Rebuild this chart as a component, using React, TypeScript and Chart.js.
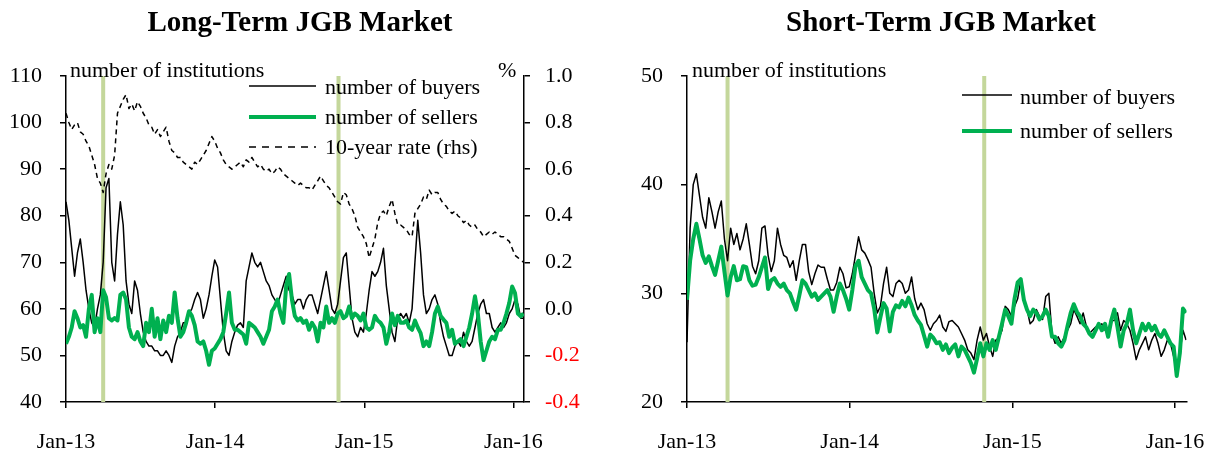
import React, { useEffect, useRef } from "react";
import { Chart, registerables } from "chart.js";

Chart.register(...registerables);

// ---- data (weekly observations, x = days since 1 Jan 2013) ----
const WEEK_STEP_DAYS = 7;
const xTickDays = [0, 365, 730, 1095];
const xTickLabels = ["Jan-13", "Jan-14", "Jan-15", "Jan-16"];
const xMaxDay = 1121;
const policyEventDays = [91, 667];

const ltBuyers = [
  83, 79, 73, 67, 72, 75, 70, 64, 60, 57,
  56, 60, 63, 70, 86, 88, 70, 66, 76, 83,
  78, 66, 61, 59, 66, 64, 59, 55, 53, 52,
  52, 51, 51, 50, 50, 51, 50, 48.5, 52, 54,
  55, 57, 57, 59, 60, 62, 63.5, 62, 58, 60,
  63, 67, 70.5, 69, 62, 55, 51, 50, 53, 55,
  56.5, 57, 56, 66, 69, 72, 70, 69, 70, 68,
  66, 65, 63, 62, 61, 63, 65, 67, 64, 63,
  61, 62, 62, 60, 62, 63, 63, 61, 59, 62,
  65, 68, 64, 60, 59, 61, 66, 71, 72, 65,
  58, 55, 54, 56, 55, 59, 64, 68, 67, 68,
  70, 73, 65, 60, 55, 53, 58, 59, 58, 59,
  57, 60, 70, 79, 72, 63, 59, 60, 62, 63,
  61, 57, 54, 52, 50, 50, 52, 53, 52, 55,
  53, 52, 53, 56, 59, 61, 62, 59, 59, 56,
  55, 56, 57, 56, 57, 59, 60, 62, 61, 58, 58,
];

const ltSellers = [
  52.5, 54, 56, 59.5, 58, 56, 56.5, 54, 60, 63,
  55, 58, 55, 64, 62.5, 58, 57.5, 58, 57.5, 63,
  63.5, 62, 56, 54, 53.5, 55, 53, 52, 57, 55,
  60, 54, 58, 53.5, 57.5, 55, 58.5, 57, 63.5, 58,
  54, 55, 57, 59.5, 58.5, 56.5, 53, 52.5, 53, 51,
  48, 51, 51.5, 52.5, 53.5, 55, 59, 63.5, 57, 55.5,
  55.5, 55, 54.5, 52.5, 57, 56.5, 56, 55, 54, 52.5,
  54, 55.5, 59.5, 60.5, 62, 59, 57, 65, 67.5, 62,
  58.5, 57.5, 58, 57, 57.5, 55.5, 57, 56, 53, 57,
  56, 60.5, 57, 58, 57, 59, 59.5, 58, 58.5, 60.5,
  58, 59, 58.5, 57.5, 59, 56, 55.5, 56, 58.5, 57.5,
  57, 56, 52.5, 55, 59, 56.5, 58.5, 57, 57, 57.5,
  56, 55.5, 57.5, 56, 54.8, 52, 53, 52, 55, 59,
  60.5, 58.5, 57.7, 57, 54, 55.5, 52.5, 53, 53.5, 52,
  54, 56, 59, 62.7, 59, 53, 49, 51, 53, 54,
  53.5, 55.5, 55.5, 57, 59, 61.3, 64.8, 63.4, 59, 58.4, 59,
];

const tenYearRate = [
  0.84, 0.8, 0.77, 0.79, 0.8, 0.76, 0.75, 0.72, 0.7, 0.66,
  0.62, 0.56, 0.54, 0.5, 0.58, 0.62, 0.6, 0.66, 0.84, 0.87,
  0.9, 0.92, 0.86, 0.88, 0.85, 0.89, 0.87, 0.84, 0.82, 0.79,
  0.78, 0.75, 0.77, 0.74, 0.76, 0.78, 0.72, 0.68, 0.67, 0.65,
  0.65, 0.63, 0.62, 0.61, 0.6, 0.63, 0.62, 0.64, 0.66, 0.68,
  0.71, 0.74, 0.72, 0.69, 0.67, 0.64, 0.62, 0.61, 0.6, 0.61,
  0.62, 0.63, 0.61, 0.64, 0.63, 0.65, 0.63, 0.61, 0.62, 0.6,
  0.59, 0.6, 0.58, 0.59, 0.61, 0.6, 0.58, 0.57, 0.56, 0.55,
  0.54, 0.53, 0.54, 0.53, 0.52, 0.52, 0.51, 0.53, 0.55, 0.57,
  0.55, 0.53, 0.52, 0.5, 0.48, 0.46, 0.45, 0.5, 0.49, 0.45,
  0.43, 0.4, 0.35, 0.33, 0.31, 0.28, 0.22, 0.26, 0.3, 0.37,
  0.41, 0.42, 0.4, 0.44, 0.47, 0.41, 0.36, 0.36, 0.35, 0.34,
  0.32, 0.31, 0.41, 0.43, 0.45, 0.48, 0.47, 0.51, 0.49, 0.5,
  0.5, 0.47, 0.45, 0.44, 0.42, 0.41, 0.42, 0.4, 0.39, 0.37,
  0.38, 0.36, 0.35, 0.36, 0.34, 0.33, 0.31, 0.32, 0.33, 0.32,
  0.33, 0.32, 0.31, 0.31, 0.3, 0.29, 0.26, 0.23, 0.22, 0.21, 0.2,
];

const stBuyers = [
  25.5, 36, 40, 41, 39, 37, 36, 38.8, 37.5, 36,
  37.5, 38.5, 35, 33, 36, 34.5, 35.5, 34, 35, 36.4,
  34.5, 32.5, 31.8, 33, 36, 36.2, 33.5, 32, 33, 36,
  34.5, 33.5, 33.3, 32.4, 33, 31.2, 33, 34.5, 34.5, 32,
  30.8, 31.8, 32.6, 32.4, 32.4, 31.3, 30.3, 30.3, 31, 32.4,
  31.8, 30.5, 30.6, 31.8, 33.5, 35.2, 34, 33.7, 33.1, 32.4,
  30, 28.2, 28.8, 30.9, 32.4, 30, 29.7, 30.9, 31.2, 30.9,
  30, 30.3, 31.5, 29.5, 28.5, 29.1, 28.5, 27.2, 26.6, 27.2,
  27.5, 28, 26.9, 26.5, 27.4, 27.5, 27.2, 26.9, 26.3, 25.7,
  24.8, 24.5, 23.9, 25.7, 26.9, 25.7, 26.3, 25.1, 24.2, 25.7,
  25.9, 26.6, 28.8, 28.5, 27.9, 28.8, 29.5, 31.2, 29.4, 28.5,
  27.2, 27.5, 28.5, 27.9, 27.6, 29.7, 30, 26.3, 25.4, 26,
  25.4, 26, 26.6, 27.2, 28.5, 27.9, 27.2, 28.2, 27, 26.3,
  26.6, 26.9, 26.9, 27.2, 26.6, 26.6, 27.5, 27.5, 28.2, 26.6,
  27.5, 27.2, 26.6, 25.4, 23.9, 24.8, 25.4, 26, 24.8, 25.7,
  26.3, 25.4, 24.2, 24.8, 25.7, 25.4, 24.2, 23, 24.5, 26.6, 25.7,
];

const stSellers = [
  29.4, 33, 35, 36.4, 35, 33.5, 32.8, 33.4, 32.5, 31.7,
  33, 34.3, 32, 29.8, 31.5, 32.5, 31.2, 31.3, 32.5, 32.4,
  31.2, 30.7, 30.8, 31.5, 32.4, 33.3, 30.4, 31.2, 31.4, 30.9,
  30.6, 30.9, 30.3, 30, 29.2, 28.5, 29.8, 31.2, 30.9, 30.3,
  29.7, 30, 29.4, 29.7, 30, 30.3, 29.7, 28.3, 29.7, 30.9,
  30.3, 29.5, 28.5, 30.3, 32.5, 33, 31.5, 30.9, 30.3, 30,
  28.6, 26.4, 27.8, 29.1, 28.6, 26.5, 28.3, 28.9, 28.7, 29.3,
  28.8, 29.6, 28.9, 28, 27.5, 27.1, 26.1, 25.1, 26.2, 25.9,
  25.4, 25.5, 24.8, 25.3, 24.5, 25, 25.3, 24.2, 25.1, 24.8,
  24.2, 23.6, 22.7, 24, 25.4, 24.2, 25.4, 24.8, 25.7, 24.8,
  26, 27.2, 28.5, 27.9, 27.2, 29.5, 31, 31.3, 29.4, 28.5,
  27.9, 28.5, 28.2, 27.6, 27.9, 28.5, 27.9, 26, 26, 25.4,
  25.1, 25.7, 27, 28.2, 29, 28.3, 27.9, 27.2, 26.9, 26.3,
  26, 26.6, 27.2, 26.6, 27.2, 26, 27.5, 28.5, 26.9, 25.1,
  26.6, 27.2, 28.5, 26.6, 25.4, 26.3, 27.2, 26.6, 27.2, 26.6,
  27, 26.3, 26, 26.6, 26, 25.4, 25.1, 22.4, 24.5, 28.6, 28.2,
];

const ltTitle = "Long-Term JGB Market";
const stTitle = "Short-Term JGB Market";
const unitLabel = "number of institutions";
const legendBuyers = "number of buyers";
const legendSellers = "number of sellers";
const legendRate = "10-year rate (rhs)";

// ---- styles ----
const FONT = "'Liberation Serif', 'Times New Roman', serif";
const GREEN = "#00b050";
const BAND = "#c4d79b";
const RED = "#ff0000";

const toPoints = (vals: number[]) => vals.map((v, i) => ({ x: i * WEEK_STEP_DAYS, y: v }));

const decoPlugin = {
  id: "deco",
  beforeDatasetsDraw(chart: any) {
    const { ctx, chartArea } = chart;
    const xs = chart.scales.x;
    ctx.save();
    ctx.fillStyle = BAND;
    for (const d of policyEventDays) {
      const px = xs.getPixelForValue(d);
      ctx.fillRect(px - 2, chartArea.top, 4, chartArea.bottom - chartArea.top);
    }
    ctx.restore();
  },
  afterDraw(chart: any, _args: any, opts: any) {
    const ctx = chart.ctx;
    ctx.save();
    ctx.fillStyle = "#000";
    ctx.font = `bold 29px ${FONT}`;
    ctx.textAlign = "center";
    ctx.textBaseline = "alphabetic";
    ctx.fillText(opts.title, opts.titleX, 31);
    ctx.font = `22px ${FONT}`;
    ctx.textAlign = "left";
    for (const t of opts.texts) ctx.fillText(t.text, t.x, t.y);
    for (const it of opts.legend) {
      ctx.beginPath();
      ctx.strokeStyle = it.color;
      ctx.lineWidth = it.width;
      ctx.setLineDash(it.dash || []);
      ctx.moveTo(it.x0, it.y);
      ctx.lineTo(it.x1, it.y);
      ctx.stroke();
      ctx.setLineDash([]);
      ctx.textBaseline = "middle";
      ctx.fillText(it.label, it.tx, it.ty);
    }
    ctx.restore();
  },
};

const axisGrid = { display: true, drawOnChartArea: false, drawTicks: true, tickLength: 6, color: "#000", lineWidth: 1.5 };
const axisBorder = { display: true, color: "#000", width: 1.5 };
const tickFont = { family: FONT, size: 22 };

function xScale(height: number) {
  return {
    type: "linear",
    min: 0,
    max: xMaxDay,
    afterBuildTicks: (s: any) => {
      s.ticks = xTickDays.map((v) => ({ value: v }));
    },
    afterFit: (s: any) => {
      s.height = height;
    },
    ticks: {
      font: tickFont,
      color: "#000",
      padding: 21,
      maxRotation: 0,
      autoSkip: false,
      callback: (_v: any, i: number) => xTickLabels[i],
    },
    grid: axisGrid,
    border: axisBorder,
  };
}

function lineDs(label: string, vals: number[], color: string, width: number, axis: string, order: number, dash?: number[]) {
  return {
    label,
    data: toPoints(vals),
    borderColor: color,
    backgroundColor: color,
    borderWidth: width,
    borderDash: dash || [],
    pointRadius: 0,
    tension: 0,
    yAxisID: axis,
    order,
    borderJoinStyle: "round",
  };
}

function useChart(ref: React.RefObject<HTMLCanvasElement>, build: () => any) {
  useEffect(() => {
    if (!ref.current) return;
    const chart = new Chart(ref.current, build());
    return () => chart.destroy();
  }, []);
}

export default function App() {
  const leftRef = useRef<HTMLCanvasElement>(null);
  const rightRef = useRef<HTMLCanvasElement>(null);

  useChart(leftRef, () => ({
    type: "line",
    data: {
      datasets: [
        lineDs(legendSellers, ltSellers, GREEN, 4, "y", 0),
        lineDs(legendBuyers, ltBuyers, "#000", 1.5, "y", 1),
        lineDs(legendRate, tenYearRate, "#000", 1.5, "y2", 2, [5, 4]),
      ],
    },
    options: {
      animation: false,
      responsive: false,
      maintainAspectRatio: false,
      layout: { padding: { top: 76, left: 0, right: 0, bottom: 0 } },
      plugins: {
        legend: { display: false },
        tooltip: { enabled: false },
        deco: {
          title: ltTitle,
          titleX: 300,
          texts: [
            { text: unitLabel, x: 70, y: 77 },
            { text: "%", x: 498, y: 77 },
          ],
          legend: [
            { label: legendBuyers, color: "#000", width: 1.5, x0: 249, x1: 316, y: 86, tx: 325, ty: 88 },
            { label: legendSellers, color: GREEN, width: 4, x0: 249, x1: 316, y: 117, tx: 325, ty: 118 },
            { label: legendRate, color: "#000", width: 1.5, dash: [7, 6], x0: 249, x1: 316, y: 147, tx: 325, ty: 148 },
          ],
        },
      },
      scales: {
        x: xScale(53),
        y: {
          position: "left",
          min: 40,
          max: 110,
          afterFit: (s: any) => {
            s.width = 66;
          },
          ticks: { stepSize: 10, font: tickFont, color: "#000", padding: 18 },
          grid: axisGrid,
          border: axisBorder,
        },
        y2: {
          position: "right",
          min: -0.4,
          max: 1.0,
          afterFit: (s: any) => {
            s.width = 89;
          },
          ticks: {
            stepSize: 0.2,
            font: tickFont,
            padding: 15,
            color: (c: any) => (c.tick && c.tick.value < -1e-9 ? RED : "#000"),
            callback: (v: number) => (Math.abs(v) < 1e-9 ? 0 : v).toFixed(1),
          },
          grid: axisGrid,
          border: axisBorder,
        },
      },
    },
    plugins: [decoPlugin],
  }));

  useChart(rightRef, () => ({
    type: "line",
    data: {
      datasets: [
        lineDs(legendSellers, stSellers, GREEN, 4, "y", 0),
        lineDs(legendBuyers, stBuyers, "#000", 1.5, "y", 1),
      ],
    },
    options: {
      animation: false,
      responsive: false,
      maintainAspectRatio: false,
      layout: { padding: { top: 76, left: 0, right: 31, bottom: 0 } },
      plugins: {
        legend: { display: false },
        tooltip: { enabled: false },
        deco: {
          title: stTitle,
          titleX: 328,
          texts: [{ text: unitLabel, x: 79, y: 77 }],
          legend: [
            { label: legendBuyers, color: "#000", width: 1.5, x0: 349, x1: 399, y: 95, tx: 407, ty: 98 },
            { label: legendSellers, color: GREEN, width: 4, x0: 349, x1: 399, y: 131, tx: 407, ty: 132 },
          ],
        },
      },
      scales: {
        x: xScale(53),
        y: {
          position: "left",
          min: 20,
          max: 50,
          afterFit: (s: any) => {
            s.width = 74;
          },
          ticks: { stepSize: 10, font: tickFont, color: "#000", padding: 18 },
          grid: axisGrid,
          border: axisBorder,
        },
      },
    },
    plugins: [decoPlugin],
  }));

  return (
    <div style={{ position: "absolute", left: 0, top: 0, width: 1226, height: 455, background: "#fff" }}>
      <canvas ref={leftRef} width={613} height={455} style={{ position: "absolute", left: 0, top: 0, width: 613, height: 455 }} />
      <canvas ref={rightRef} width={613} height={455} style={{ position: "absolute", left: 613, top: 0, width: 613, height: 455 }} />
    </div>
  );
}
